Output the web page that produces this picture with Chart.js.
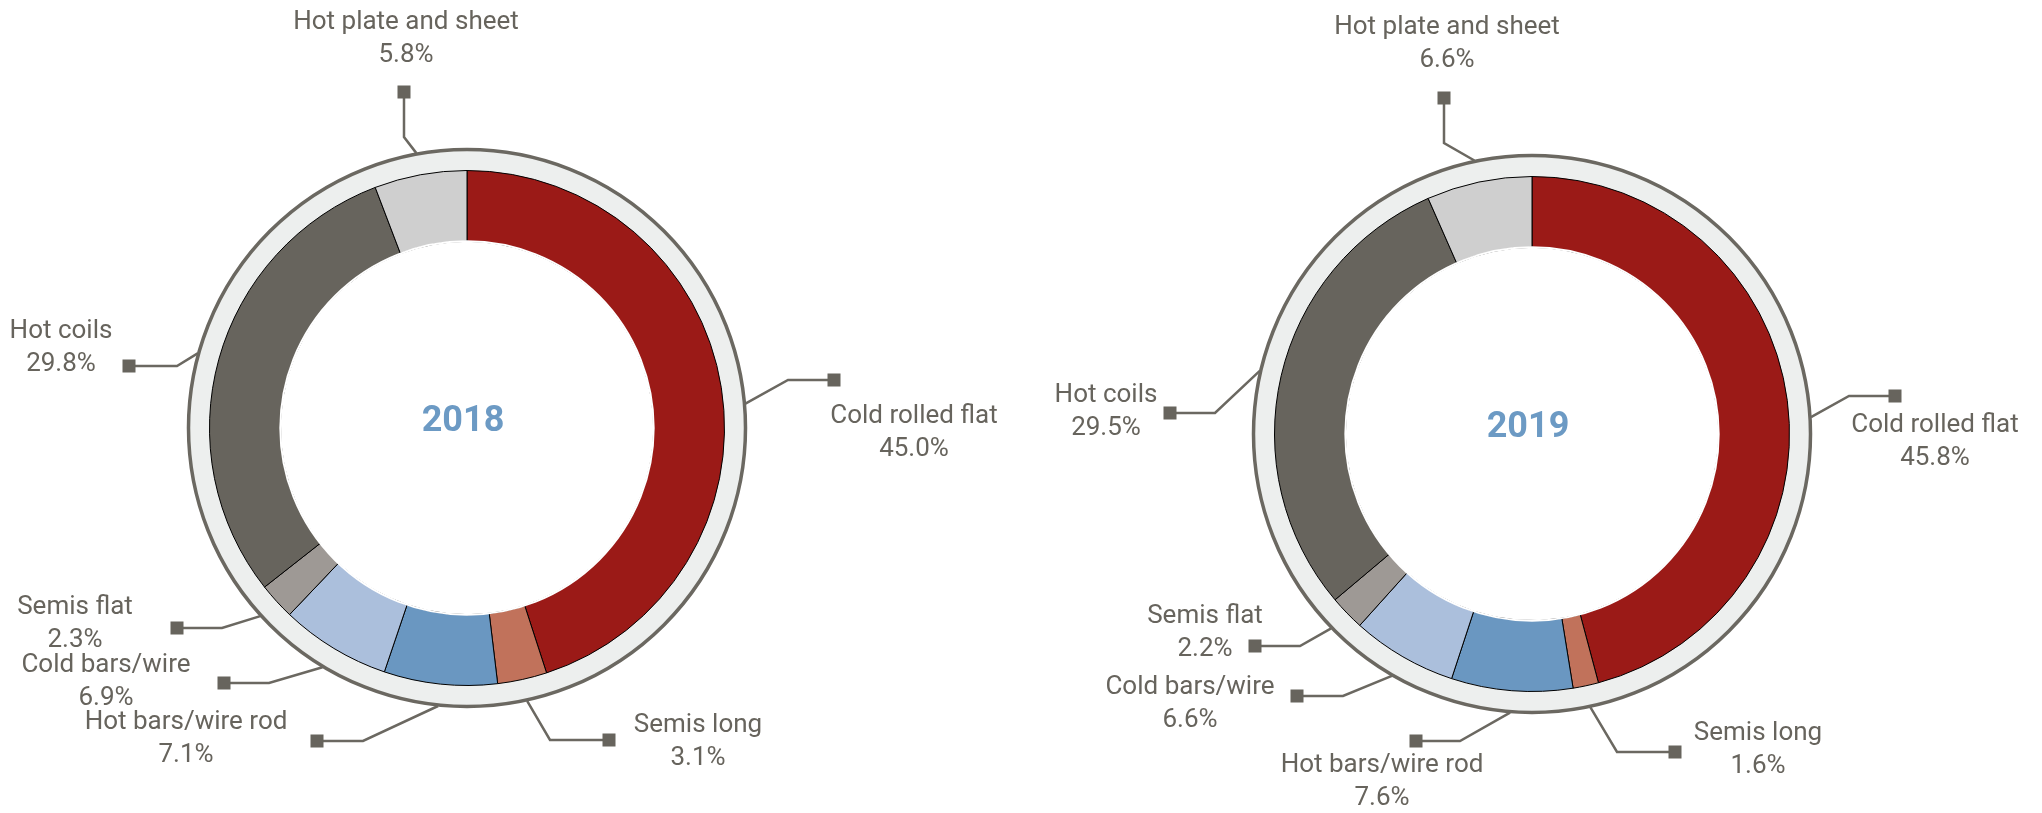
<!DOCTYPE html>
<html>
<head>
<meta charset="utf-8">
<script src="https://cdn.jsdelivr.net/npm/chart.js@4.4.1/dist/chart.umd.min.js"></script>
<style>
  html, body { margin: 0; padding: 0; background: #fff; overflow: hidden; }
  #wrap { position: relative; width: 2042px; height: 813px; }
  canvas { position: absolute; top: 0; }
</style>
</head>
<body>
<div id="wrap">
  <canvas id="chart2018" width="1021" height="813" style="left:0"></canvas>
  <canvas id="chart2019" width="1021" height="813" style="left:1021px"></canvas>
</div>
<script>
const categories = ['Cold rolled flat', 'Semis long', 'Hot bars/wire rod', 'Cold bars/wire', 'Semis flat', 'Hot coils', 'Hot plate and sheet'];
const share2018 = [45.0, 3.1, 7.1, 6.9, 2.3, 29.8, 5.8];
const share2019 = [45.8, 1.6, 7.6, 6.6, 2.2, 29.5, 6.6];

const sliceColors = ['#9b1a17', '#c1725b', '#6a97c1', '#abbfdc', '#9e9995', '#67645d', '#cfcfcf'];
const ink = '#67645d';

// label placement (canvas-local px): marker square, elbow of leader, text centre
// nudge = degrees the leader start is moved from the slice middle
const layout2018 = [
  { marker: [834, 380], knee: [788, 380], text: [914, 416], nudge: 4 },
  { marker: [609, 740], knee: [550, 740], text: [698, 725] },
  { marker: [317, 741], knee: [363, 741], text: [186, 722] },
  { marker: [224, 683], knee: [269, 683], text: [106, 665] },
  { marker: [177, 628], knee: [222, 628], text: [75, 607] },
  { marker: [129, 366], knee: [177, 366], text: [61, 331] },
  { marker: [404, 92], knee: [404, 137], text: [406, 22] }
];
const layout2019 = [
  { marker: [874, 396], knee: [828, 396], text: [914, 425], nudge: 4 },
  { marker: [654, 752], knee: [596, 752], text: [737, 733] },
  { marker: [395, 741], knee: [439, 741], text: [361, 765] },
  { marker: [276, 696], knee: [322, 696], text: [169, 687] },
  { marker: [234, 646], knee: [279, 646], text: [184, 616] },
  { marker: [149, 413], knee: [194, 413], text: [85, 395] },
  { marker: [423, 98], knee: [423, 143], text: [426, 27] }
];

const ringPlugin = {
  id: 'ring',
  beforeDatasetsDraw(chart) {
    const a = chart.getDatasetMeta(0).data[0];
    const ctx = chart.ctx;
    const r = a.outerRadius + 21;
    ctx.save();
    ctx.beginPath();
    ctx.arc(a.x, a.y, r, 0, Math.PI * 2);
    ctx.arc(a.x, a.y, a.outerRadius, 0, Math.PI * 2, true);
    ctx.fillStyle = '#edefee';
    ctx.fill();
    ctx.beginPath();
    ctx.arc(a.x, a.y, r, 0, Math.PI * 2);
    ctx.lineWidth = 3.5;
    ctx.strokeStyle = '#6b6861';
    ctx.stroke();
    ctx.restore();
  },
  afterDatasetsDraw(chart, args, opts) {
    const ctx = chart.ctx;
    const arcs = chart.getDatasetMeta(0).data;
    const values = chart.data.datasets[0].data;
    const a0 = arcs[0];
    ctx.save();
    // no black edge on the hole
    ctx.beginPath();
    ctx.arc(a0.x, a0.y, a0.innerRadius, 0, Math.PI * 2);
    ctx.lineWidth = 2;
    ctx.strokeStyle = '#ffffff';
    ctx.stroke();

    arcs.forEach((arc, i) => {
      const lay = opts.layout[i];
      const mid = (arc.startAngle + arc.endAngle) / 2 + (lay.nudge || 0) * Math.PI / 180;
      const r = arc.outerRadius + 22;
      ctx.beginPath();
      ctx.moveTo(arc.x + r * Math.cos(mid), arc.y + r * Math.sin(mid));
      ctx.lineTo(lay.knee[0], lay.knee[1]);
      ctx.lineTo(lay.marker[0], lay.marker[1]);
      ctx.lineWidth = 2.5;
      ctx.strokeStyle = '#6b6861';
      ctx.stroke();
      ctx.fillStyle = '#67645d';
      ctx.fillRect(lay.marker[0] - 6.5, lay.marker[1] - 6.5, 13, 13);

      ctx.fillStyle = ink;
      ctx.font = '26px Roboto';
      ctx.textAlign = 'center';
      ctx.textBaseline = 'middle';
      ctx.fillText(chart.data.labels[i], lay.text[0], lay.text[1]);
      ctx.fillText(values[i].toFixed(1) + '%', lay.text[0], lay.text[1] + 33);
    });

    ctx.font = 'bold 36px Roboto';
    ctx.fillStyle = '#6c9ac4';
    ctx.fillText(opts.year, a0.x - 4, a0.y - 6);
    ctx.restore();
  }
};

function makeDonut(id, values, year, layout, padding) {
  return new Chart(document.getElementById(id), {
    type: 'doughnut',
    data: {
      labels: categories,
      datasets: [{
        data: values,
        backgroundColor: sliceColors,
        borderColor: '#000000',
        borderWidth: 1,
        hoverOffset: 0,
        offset: 0
      }]
    },
    options: {
      responsive: false,
      animation: false,
      cutout: '72.5%',
      layout: { padding: padding },
      plugins: {
        legend: { display: false },
        tooltip: { enabled: false },
        ring: { year: year, layout: layout }
      }
    },
    plugins: [ringPlugin]
  });
}

makeDonut('chart2018', share2018, '2018', layout2018, { left: 209, right: 296, top: 170, bottom: 127 });
makeDonut('chart2019', share2019, '2019', layout2019, { left: 253, right: 252, top: 176, bottom: 121 });
</script>
</body>
</html>
